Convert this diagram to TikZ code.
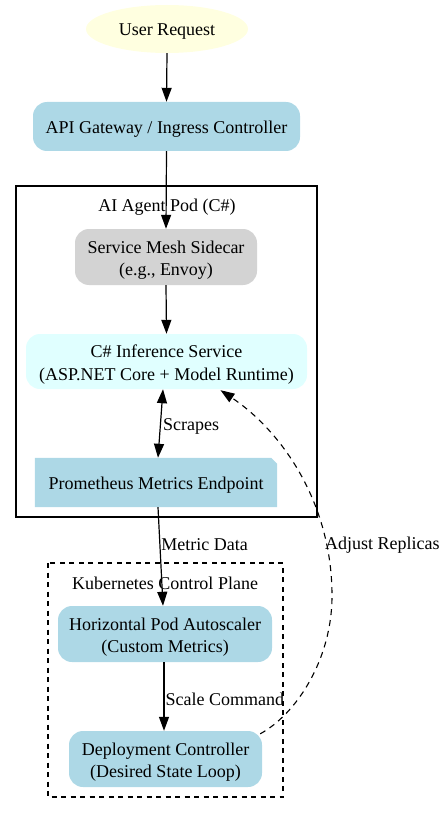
\documentclass[tikz,border=0pt]{standalone}
\usepackage{fontspec}
\setmainfont{Liberation Serif}
\usetikzlibrary{arrows.meta,calc,shapes.geometric,backgrounds}
\definecolor{lyellow}{HTML}{FFFFE0}
\definecolor{lblue}{HTML}{ADD8E6}
\definecolor{lgrey}{HTML}{D3D3D3}
\definecolor{lcyan}{HTML}{E0FFFF}
\tikzset{
  every node/.style={font=\fontsize{18}{22.5}\selectfont, align=center, inner sep=0pt},
  txt/.style={label={[yshift=-3pt]center:#1}},
  boxnode/.style={rounded corners=14pt, minimum height=56pt},
  tip/.style={Triangle[length=14pt,width=10pt]},
  arr/.style={-{Triangle[length=14pt,width=10pt]}, line width=1.2pt},
  biarr/.style={{Triangle[length=14pt,width=10pt]}-{Triangle[length=14pt,width=10pt]}, line width=1.2pt},
  dasharr/.style={-{Triangle[length=14pt,width=10pt]}, line width=1.1pt, dash pattern=on 6pt off 5pt},
  elabel/.style={anchor=west, yshift=-3pt},
  cluster/.style={line width=1.2pt},
}
\begin{document}
\begin{tikzpicture}[x=1pt,y=-1pt]
\useasboundingbox (0,0) rectangle (446,813);
% clusters
\draw[cluster] (16,186) rectangle (317,517);
\node[yshift=-3pt] (podlabel) at (167,204) {AI Agent Pod (C\#)};
\draw[cluster, dash pattern=on 5pt off 4.5pt] (48,563) rectangle (283,797);
\node[yshift=-3pt] (k8slabel) at (165,580) {Kubernetes Control Plane};
% nodes
\node[ellipse, fill=lyellow, minimum width=162pt, minimum height=48pt, txt={User Request}] (user) at (167,29) {};
\node[boxnode, fill=lblue, minimum width=267pt, minimum height=49pt, txt={API Gateway / Ingress Controller}] (api) at (166.5,126.5) {};
\node[boxnode, fill=lgrey, minimum width=182pt, txt={Service Mesh Sidecar\\(e.g., Envoy)}] (sidecar) at (166,257) {};
\node[boxnode, fill=lcyan, minimum width=281pt, minimum height=55pt, txt={C\# Inference Service\\(ASP.NET Core + Model Runtime)}] (infer) at (166.5,361.5) {};
\node[minimum width=242pt, minimum height=49pt, txt={Prometheus Metrics Endpoint}] (prom) at (156,482.5) {};
\node[boxnode, fill=lblue, minimum width=214pt, txt={Horizontal Pod Autoscaler\\(Custom Metrics)}] (hpa) at (165,634) {};
\node[boxnode, fill=lblue, minimum width=193pt, txt={Deployment Controller\\(Desired State Loop)}] (deploy) at (165.5,759) {};
% note shape for prometheus
\begin{scope}[on background layer]
\fill[lblue] (prom.south west) -- (prom.north west) -- ($(prom.north east)+(-6pt,0pt)$) -- ($(prom.north east)+(0pt,-6pt)$) -- (prom.south east) -- cycle;
\end{scope}
% edges
\draw[arr] (user.south) -- (api.north);
\draw[arr] (api.south) -- (sidecar.north);
\draw[arr] (sidecar.south) -- (infer.north);
\draw[biarr] ($(infer.south)+(-3.5pt,0pt)$) -- node[elabel, pos=0.5, xshift=2pt] (lscr) {Scrapes} ($(prom.north)+(2pt,0pt)$);
\draw[arr] ($(prom.south)+(2pt,0pt)$) -- node[elabel, pos=0.35, xshift=1pt] (lmet) {Metric Data} ($(hpa.north)+(-2pt,0pt)$);
\draw[arr] ($(hpa.south)+(-1pt,0pt)$) -- node[elabel, pos=0.5, xshift=1pt] (lscale) {Scale Command} ($(deploy.north)+(-1.5pt,0pt)$);
\coordinate (cstart) at ($(deploy.north east)+(-2pt,-3pt)$);
\coordinate (cmid) at (332,593);
\coordinate (cend) at ($(infer.south)+(54pt,-1pt)$);
\draw[dasharr] (cstart) .. controls (295,715) and (333,660) .. (cmid) .. controls (331,500) and (280,430) .. (cend);
\node[elabel] (ladj) at (325,542) {Adjust Replicas};
\end{tikzpicture}
\end{document}
